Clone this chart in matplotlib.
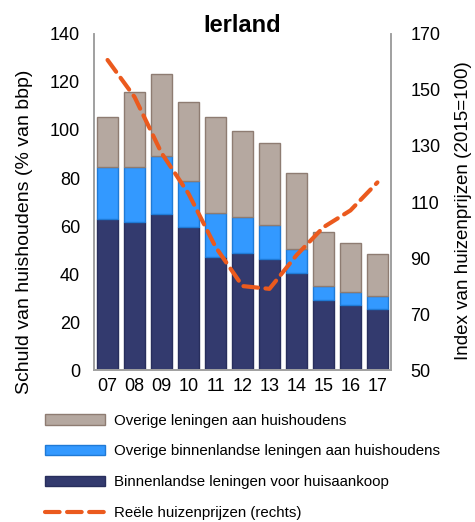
import matplotlib
matplotlib.use('Agg')
import matplotlib.pyplot as plt
import numpy as np

plt.rcParams['font.family'] = ['Liberation Sans', 'DejaVu Sans']

# jaren
years = ['07', '08', '09', '10', '11', '12', '13', '14', '15', '16', '17']

# schuld van huishoudens (% van bbp), cumulatieve niveaus uit de grafiek
huisaankoop = [62.9, 61.7, 65.0, 59.6, 47.0, 48.6, 46.2, 40.4, 29.2, 27.1, 25.4]
binnenlands_top = [84.6, 84.6, 89.2, 78.8, 65.4, 63.8, 60.4, 50.4, 35.0, 32.5, 30.8]
totaal = [105.4, 115.8, 123.3, 111.7, 105.4, 99.6, 94.6, 82.1, 57.5, 52.9, 48.3]

# reele huizenprijzen (rechts, 2015=100)
huizenprijzen = [160.7, 147.5, 127.5, 113.0, 94.0, 80.0, 79.0, 91.0, 101.0, 107.0, 117.0]

huisaankoop = np.array(huisaankoop)
overig_binnen = np.array(binnenlands_top) - huisaankoop
overig = np.array(totaal) - np.array(binnenlands_top)

c_overig = '#B5A8A0'
c_binnen = '#3399FF'
c_huis = '#333A6E'
c_line = '#EB5A1E'

fig = plt.figure(figsize=(4.75, 5.22), dpi=100)
ax = fig.add_axes([0.198, 0.291, 0.625, 0.644])
ax2 = ax.twinx()

x = np.arange(len(years))
w = 0.78
b1 = ax.bar(x, huisaankoop, w, color=c_huis, edgecolor='#282E5C', linewidth=1)
b2 = ax.bar(x, overig_binnen, w, bottom=huisaankoop, color=c_binnen,
            edgecolor='#1F7AD6', linewidth=1)
b3 = ax.bar(x, overig, w, bottom=binnenlands_top, color=c_overig,
            edgecolor='#8E7C72', linewidth=1)

ln, = ax2.plot(x, huizenprijzen, color=c_line, linewidth=3,
               linestyle=(0, (3.5, 1.8)), dash_capstyle='round')

ax.set_xlim(-0.5, len(years) - 0.5)
ax.set_ylim(0, 140)
ax.set_yticks(range(0, 141, 20))
ax2.set_ylim(50, 170)
ax2.set_yticks(range(50, 171, 20))
ax.set_xticks(x)
ax.set_xticklabels(years)

for a in (ax, ax2):
    a.tick_params(length=0, labelsize=13)
    a.spines['top'].set_visible(False)
    for s in ('left', 'right', 'bottom'):
        a.spines[s].set_color('#A0A0A0')
        a.spines[s].set_linewidth(1.2)
ax.tick_params(axis='y', pad=10)
ax2.tick_params(axis='y', pad=14)
ax.tick_params(axis='x', pad=6)

# as-titels
fig.text(25 / 475, 1 - 232 / 522, 'Schuld van huishoudens (% van bbp)',
         rotation=90, ha='center', va='center', fontsize=14)
fig.text(463 / 475, 1 - 211 / 522, 'Index van huizenprijzen (2015=100)',
         rotation=90, ha='center', va='center', fontsize=13.5)
fig.text(242.5 / 475, 1 - 32 / 522, 'Ierland', ha='center', va='baseline',
         fontsize=17, fontweight='bold')

fig.legend([b3, b2, b1, ln],
           ['Overige leningen aan huishoudens',
            'Overige binnenlandse leningen aan huishoudens',
            'Binnenlandse leningen voor huisaankoop',
            'Reële huizenprijzen (rechts)'],
           loc='upper left', bbox_to_anchor=(0.083, 0.219), frameon=False,
           fontsize=10.8, handlelength=4.0, handleheight=0.7,
           labelspacing=1.12, handletextpad=0.55, borderaxespad=0)

fig.savefig('out.png', dpi=100)
